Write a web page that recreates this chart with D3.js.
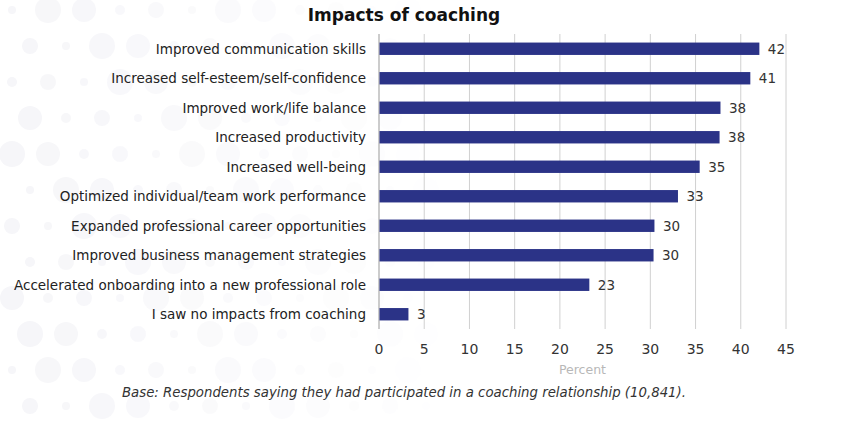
<!DOCTYPE html>
<html>
<head>
<meta charset="utf-8">
<script src="https://cdn.jsdelivr.net/npm/d3@7"></script>
<style>
  body { margin: 0; background: #fff; }
  svg text { font-family: "DejaVu Sans", sans-serif; }
</style>
</head>
<body>
<svg id="chart" width="846" height="439"></svg>
<script>
// chart data
var categories = [
  'Improved communication skills',
  'Increased self-esteem/self-confidence',
  'Improved work/life balance',
  'Increased productivity',
  'Increased well-being',
  'Optimized individual/team work performance',
  'Expanded professional career opportunities',
  'Improved business management strategies',
  'Accelerated onboarding into a new professional role',
  'I saw no impacts from coaching'
];
var values = [42, 41, 38, 38, 35, 33, 30, 30, 23, 3];
var barValues = [42, 41, 37.7, 37.6, 35.4, 33, 30.4, 30.3, 23.2, 3.2];
var ticks = [0, 5, 10, 15, 20, 25, 30, 35, 40, 45];

var svg = d3.select('#chart');

// faint background dots
var dots = svg.append('g').attr('fill', '#f6f6f9');
for (var r = 0; r < 12; r++) {
  for (var c = 0; c < 14; c++) {
    var k = (r * 7 + c * 3) % 5;
    dots.append('circle')
      .attr('cx', 12 + c * 36 + (r % 2) * 18)
      .attr('cy', 10 + r * 36)
      .attr('r', [4, 12, 8, 13, 5][k])
      .attr('opacity', Math.max(0, 1 - c / 12));
  }
}

var x = d3.scaleLinear().domain([0, 45]).range([379, 786]);
var y = d3.scaleBand().domain(categories).range([34, 329]).paddingInner(0.58).paddingOuter(0.29);

// grid
svg.append('g').selectAll('line').data(ticks.slice(1)).join('line')
  .attr('x1', d => x(d)).attr('x2', d => x(d))
  .attr('y1', 34).attr('y2', 329)
  .attr('stroke', '#d0d0d0').attr('stroke-width', 1);
svg.append('line')
  .attr('x1', x(0)).attr('x2', x(0)).attr('y1', 34).attr('y2', 329)
  .attr('stroke', '#999').attr('stroke-width', 1);

// bars
svg.append('g').selectAll('rect').data(categories).join('rect')
  .attr('x', x(0) + 0.5)
  .attr('y', d => y(d))
  .attr('height', y.bandwidth())
  .attr('width', (d, i) => x(barValues[i]) - x(0))
  .attr('fill', '#2b3387');

// value labels
svg.append('g').selectAll('text').data(categories).join('text')
  .attr('x', (d, i) => x(barValues[i]) + 9)
  .attr('y', d => y(d) + y.bandwidth() / 2)
  .attr('dy', '0.36em')
  .attr('font-size', 13.5)
  .attr('fill', '#333')
  .text((d, i) => values[i]);

// category labels
svg.append('g').selectAll('text').data(categories).join('text')
  .attr('x', 366)
  .attr('y', d => y(d) + y.bandwidth() / 2)
  .attr('dy', '0.36em')
  .attr('text-anchor', 'end')
  .attr('font-size', 13.5)
  .attr('fill', '#222')
  .text(d => d);

// tick labels
svg.append('g').selectAll('text').data(ticks).join('text')
  .attr('x', d => x(d))
  .attr('y', 354)
  .attr('text-anchor', 'middle')
  .attr('font-size', 14)
  .attr('fill', '#333')
  .text(d => d);

svg.append('text')
  .attr('x', x(22.5)).attr('y', 374)
  .attr('text-anchor', 'middle')
  .attr('font-size', 12.5)
  .attr('fill', '#b8b8b8')
  .text('Percent');

svg.append('text')
  .attr('x', 404).attr('y', 21)
  .attr('text-anchor', 'middle')
  .attr('font-size', 17)
  .attr('font-weight', 'bold')
  .attr('fill', '#111')
  .text('Impacts of coaching');

svg.append('text')
  .attr('x', 404).attr('y', 397)
  .attr('text-anchor', 'middle')
  .attr('font-size', 13.3)
  .attr('font-style', 'italic')
  .attr('fill', '#333')
  .text('Base: Respondents saying they had participated in a coaching relationship (10,841).');
</script>
</body>
</html>
